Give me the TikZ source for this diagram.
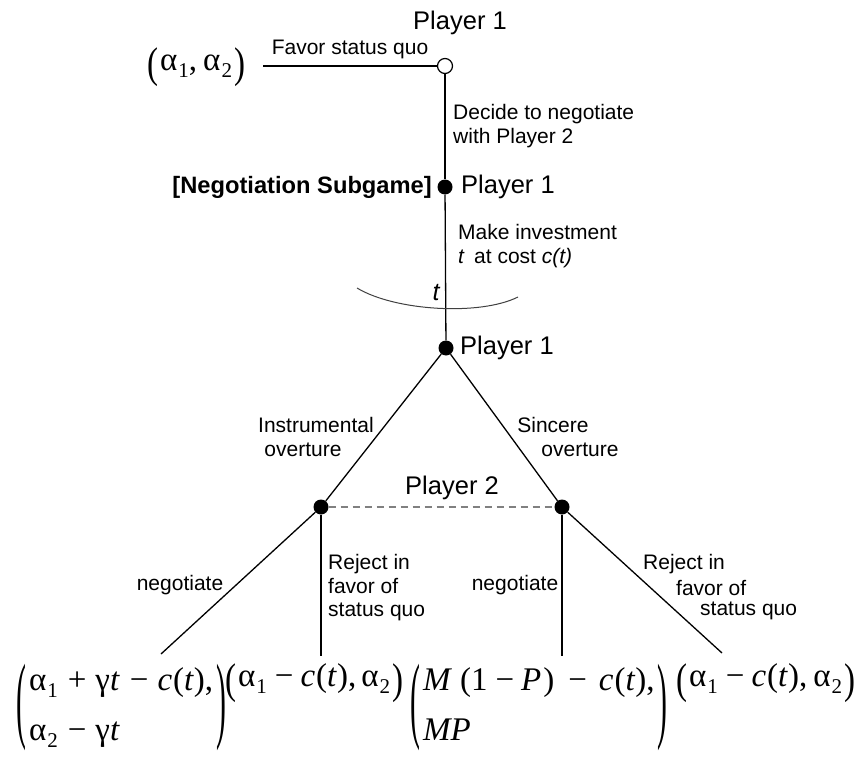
\documentclass[tikz,border=0pt]{standalone}
\usepackage{fontspec}
\setmainfont{Liberation Sans}
\newfontfamily\tms{Liberation Serif}
\usepackage{graphicx}
\newcommand\pa[1]{α\kern1pt\raisebox{-0.45ex}{\fontsize{21}{21}\selectfont #1}}
\newcommand\mi{\kern10pt−\kern9pt}
\newcommand\pl{\kern10pt+\kern9pt}
\newcommand\mii{\kern8pt−\kern7pt}
\newcommand\mo{\kern14pt−\kern12pt}
\newcommand\lp{\raisebox{-0.2em}{\scalebox{1}[1.3]{(}}\kern2pt}
\newcommand\rp{\kern2pt\raisebox{-0.2em}{\scalebox{1}[1.3]{)}}}
\newcommand\blp{\vcenter{\hbox{\scalebox{0.9}[2.9]{(}}}}
\newcommand\brp{\vcenter{\hbox{\scalebox{0.9}[2.9]{)}}}}
\newcommand\two[2]{$\blp\vcenter{\hbox{\tms\fontsize{33}{44}\selectfont\begin{tabular}{@{\kern3pt}l@{\kern3pt}}#1\\[6pt]#2\end{tabular}}}\brp$}
\begin{document}
\begin{tikzpicture}[x=1pt,y=-1pt]
\tikzset{
  dot/.style={circle,fill=black,inner sep=0,minimum size=15pt},
  opendot/.style={circle,draw=black,fill=white,line width=1.2pt,inner sep=0,minimum size=15pt},
  edge/.style={line width=1.3pt},
  infoset/.style={line width=1.6pt,draw=black!50,dash pattern=on 7pt off 5pt},
  lbl/.style={inner sep=0,font=\fontsize{21}{23.5}\selectfont},
  plr/.style={inner sep=0,font=\fontsize{25.5}{28}\selectfont},
  pay/.style={inner sep=0,font=\tms\fontsize{33}{38}\selectfont},
}
\useasboundingbox (0,0) rectangle (865,757);
% decision nodes
\node[opendot] (p1) at (445,66) {};
\node[dot] (ns) at (445,187) {};
\node[dot] (p1b) at (446,348) {};
\node[dot] (p2l) at (321,507) {};
\node[dot] (p2r) at (562,507) {};
\coordinate (sq) at (263,66);
\coordinate (e1) at (161,654);
\coordinate (e2) at (321,656);
\coordinate (e3) at (562,656);
\coordinate (e4) at (722,653);
% edges
\draw[edge] (sq) -- (p1);
\draw[edge] (p1) -- (ns);
\draw[edge] (ns) -- (p1b);
\draw[edge] (p1b) -- (p2l);
\draw[edge] (p1b) -- (p2r);
\draw[edge] (p2l) -- (e1);
\draw[edge] (p2l) -- (e2);
\draw[edge] (p2r) -- (e3);
\draw[edge] (p2r) -- (e4);
\draw[infoset] (p2l) -- (p2r);
% investment arc
\draw[line width=1pt,black!75] (357,288) .. controls (395,311) and (480,316) .. (518,297);
\node[inner sep=0,font=\itshape\fontsize{25}{25}\selectfont] (tl) at (436,293) {t};
% player labels
\node[plr] (pl1) at (460,23) {Player 1};
\node[plr,anchor=west] (pl1b) at (461,187) {Player 1};
\node[plr,anchor=west] (pl1c) at (460,348) {Player 1};
\node[plr] (pl2) at (452,488) {Player 2};
\node[inner sep=0,anchor=east,font=\bfseries\fontsize{23.7}{26}\selectfont] (sub) at (432,187) {[Negotiation Subgame]};
% action labels
\node[lbl] (fav) at (350,49) {Favor status quo};
\node[lbl,anchor=west,align=left] (dec) at (453,126) {Decide to negotiate\\with Player 2};
\node[lbl,anchor=west,align=left] (inv) at (458,246) {Make investment\\\textit{t}\hspace{0.45em}at cost \textit{c(t)}};
\node[lbl] (ins1) at (316,425) {Instrumental};
\node[lbl] (ins2) at (303,450) {overture};
\node[lbl] (sin1) at (553,425) {Sincere};
\node[lbl] (sin2) at (580,450) {overture};
\node[lbl] (neg1) at (180,585) {negotiate};
\node[lbl,anchor=west,align=left] (rej1) at (328,588) {Reject in\\favor of\\status quo};
\node[lbl] (neg2) at (515,585) {negotiate};
\node[lbl,anchor=west] (rej2a) at (643,564) {Reject in};
\node[lbl,anchor=west] (rej2b) at (676,588) {favor of};
\node[lbl,anchor=west] (rej2c) at (700,611) {status quo};
% payoffs
\node[pay,anchor=west] (pay0) at (147,67) {\lp\pa1,\kern6pt\pa2\rp};
\node[pay,anchor=west] (pay1) at (16,707) {\two{\pa1\pl γ\textit{t}\mi\textit{c}\kern1pt(\textit{t}),}{\pa2\mi γ\textit{t}}};
\node[pay,anchor=west] (pay2) at (225,683) {\lp\pa1\mii\textit{c}\kern1pt(\textit{t}),\kern5pt\pa2\rp};
\node[pay,anchor=west] (pay3) at (410,707) {\two{\textit{M}\kern8pt(1\mii\textit{P}\kern2pt)\mo\textit{c}\kern1pt(\textit{t}),}{\textit{MP}}};
\node[pay,anchor=west] (pay4) at (676,683) {\lp\pa1\mii\textit{c}\kern1pt(\textit{t}),\kern6pt\pa2\rp};
\end{tikzpicture}
\end{document}
